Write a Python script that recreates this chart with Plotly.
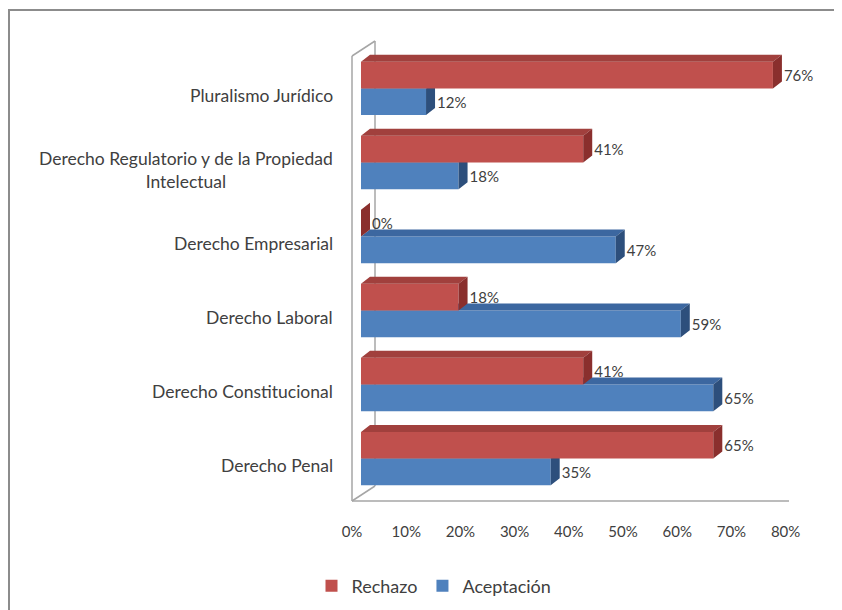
import plotly.graph_objects as go

# ---- data (top to bottom as in the chart) ----
categories = [
    "Pluralismo Jurídico",
    "Derecho Regulatorio y de la Propiedad<br>Intelectual",
    "Derecho Empresarial",
    "Derecho Laboral",
    "Derecho Constitucional",
    "Derecho Penal",
]
rechazo = [76, 41, 0, 18, 41, 65]
aceptacion = [12, 18, 47, 59, 65, 35]
x_ticks = [0, 10, 20, 30, 40, 50, 60, 70, 80]
x_tick_labels = [f"{v}%" for v in x_ticks]

# ---- geometry / style ----
W, H = 842, 610
SH = 8                         # page body margin offset (screen = figure + 8)
L, T = 352 - SH, 40 - SH
PW, PH = 445, 461
R = W - L - PW
B = H - T - PH
KX = 5.42                      # px per percent
X0 = -9 / KX
X1 = X0 + PW / KX
Y_TOP, Y_BOT = -0.655, 5.574   # reversed numeric category axis
KY = PH / (Y_BOT - Y_TOP)
BW = 0.36
DDX = 9 / KX                   # 3-D depth in data units
DDY = 7 / KY
LABEL_GAP = 2 / KX

RED, RED_TOP, RED_SIDE = "#C0504D", "#A1403D", "#8A2F2D"
BLUE, BLUE_TOP, BLUE_SIDE = "#4F81BD", "#3C67A0", "#2D4F7C"
FONT = "Lato"
TXT = "#404040"

idx = list(range(len(categories)))


def faces(values, y_lo_off, y_hi_off):
    """3-D top and side faces for horizontal bars spanning [c+y_lo_off, c+y_hi_off]."""
    tx, ty, sx, sy = [], [], [], []
    for c, v in zip(idx, values):
        ytop = c + y_lo_off
        ybot = c + y_hi_off
        tx += [0, v, v + DDX, DDX, 0, None]
        ty += [ytop, ytop, ytop - DDY, ytop - DDY, ytop, None]
        sx += [v, v, v + DDX, v + DDX, v, None]
        sy += [ytop, ybot, ybot - DDY, ytop - DDY, ytop, None]
    return tx, ty, sx, sy


fig = go.Figure()


def add_series(values, name, front, top, side, off, xa, ya, legendrank):
    tx, ty, sx, sy = faces(values, off, off + BW)
    fig.add_trace(go.Bar(
        y=idx, x=values, orientation="h", name=name, width=BW, offset=off,
        marker=dict(color=front, line=dict(width=0)), xaxis=xa, yaxis=ya,
        legendrank=legendrank, hoverinfo="skip"))
    fig.add_trace(go.Scatter(x=tx, y=ty, fill="toself", mode="lines",
                             line=dict(width=0, color=top), fillcolor=top,
                             showlegend=False, xaxis=xa, yaxis=ya, hoverinfo="skip"))
    fig.add_trace(go.Scatter(x=sx, y=sy, fill="toself", mode="lines",
                             line=dict(width=0, color=side), fillcolor=side,
                             showlegend=False, xaxis=xa, yaxis=ya, hoverinfo="skip"))
    fig.add_trace(go.Scatter(
        x=[v + DDX + LABEL_GAP for v in values], y=[c + off + BW / 2 + 0.03 for c in idx],
        mode="text", text=[f"{v}%" for v in values], textposition="middle right",
        textfont=dict(family=FONT, size=15, color=TXT), cliponaxis=False,
        showlegend=False, xaxis=xa, yaxis=ya, hoverinfo="skip"))


# blue (lower bar) on base subplot, red (upper bar) on overlay so it sits in front
add_series(aceptacion, "Aceptación", BLUE, BLUE_TOP, BLUE_SIDE, 0.0, "x", "y", 2)
add_series(rechazo, "Rechazo", RED, RED_TOP, RED_SIDE, -BW, "x2", "y2", 1)


def px_x(p):
    return (p - SH - L) / PW


def px_y(p):
    return (T + PH - (p - SH)) / PH


# 3-D wall / floor lines
wall = dict(color="#A6A6A6", width=1.5)
shapes = [
    dict(type="line", xref="paper", yref="paper", x0=px_x(352), y0=px_y(501), x1=px_x(352), y1=px_y(56), line=wall),
    dict(type="line", xref="paper", yref="paper", x0=px_x(352), y0=px_y(56), x1=px_x(375), y1=px_y(41), line=wall),
    dict(type="line", xref="paper", yref="paper", x0=px_x(375), y0=px_y(41), x1=px_x(375), y1=px_y(486), line=wall, layer="below"),
    dict(type="line", xref="paper", yref="paper", x0=px_x(352), y0=px_y(501), x1=px_x(375), y1=px_y(486), line=wall, layer="below"),
    dict(type="line", xref="paper", yref="paper", x0=px_x(352), y0=px_y(501), x1=px_x(789), y1=px_y(501), line=wall),
    # outer chart border
    dict(type="rect", xref="paper", yref="paper", x0=px_x(9), y0=px_y(640), x1=px_x(880), y1=px_y(10),
         line=dict(color="#8C8C8C", width=2)),
]

annotations = []
for c, name in zip(idx, categories):
    annotations.append(dict(
        xref="paper", yref="y", x=px_x(335), y=c + 0.1, xanchor="right", yanchor="middle",
        text=name, showarrow=False, align="center",
        font=dict(family=FONT, size=17.5, color=TXT)))

axis_x = dict(range=[X0, X1], tickvals=x_ticks, ticktext=x_tick_labels, showgrid=False,
              zeroline=False, showline=False, ticks="", ticklabelshift=-9, ticklabelstandoff=20,
              tickfont=dict(family=FONT, size=15, color=TXT), fixedrange=True)
axis_y = dict(range=[Y_BOT, Y_TOP], showgrid=False, zeroline=False, showline=False,
              showticklabels=False, ticks="", fixedrange=True)

fig.update_layout(
    width=W, height=H,
    margin=dict(l=L, r=R, t=T, b=B),
    paper_bgcolor="white", plot_bgcolor="rgba(0,0,0,0)",
    xaxis=axis_x,
    yaxis=axis_y,
    xaxis2=dict(axis_x, overlaying="x", showticklabels=False),
    yaxis2=dict(axis_y, overlaying="y"),
    barmode="overlay",
    shapes=shapes,
    annotations=annotations,
    showlegend=True,
    legend=dict(orientation="h", x=px_x(434), y=px_y(586), xanchor="center", yanchor="middle",
                font=dict(family=FONT, size=18, color=TXT), traceorder="normal",
                itemwidth=30, bgcolor="rgba(0,0,0,0)"),
    font=dict(family=FONT, color=TXT),
)

fig.write_html("out.html")
